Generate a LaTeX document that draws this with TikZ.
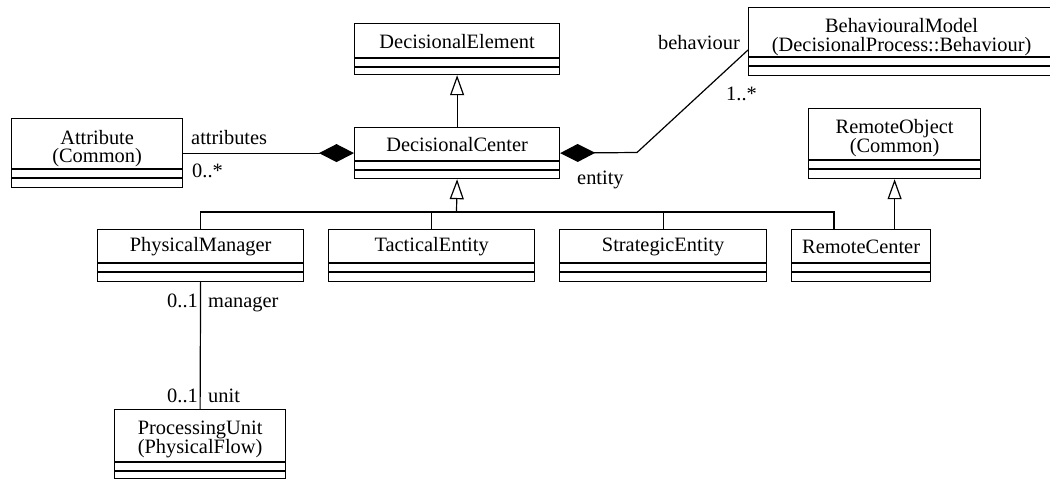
\documentclass[tikz,border=0pt]{standalone}
\usepackage{fontspec}
\setmainfont{Liberation Serif}
\usetikzlibrary{arrows.meta,calc}
\newcommand{\umlclass}[8]{%
  \node[cls, minimum width=#4pt, minimum height=#5pt, anchor=north west] (#1) at (#2,#3) {};
  \node[lbl, align=center] at ($(#1.north)+(0,#6/2+#8)$) {#7};
  \draw[ln] ($(#1.north west)+(0,#6)$) -- ($(#1.north east)+(0,#6)$);
  \draw[ln] ($(#1.north west)+(0,#6+9)$) -- ($(#1.north east)+(0,#6+9)$);
}
\begin{document}
\begin{tikzpicture}[x=1pt,y=-1pt,
  ln/.style={line width=1.2pt},
  cls/.style={draw, line width=1.2pt, inner sep=0pt, rectangle},
  lbl/.style={inner sep=0pt, font=\fontsize{20.4pt}{18.5pt}\selectfont},
  gen/.style={ln, -{Triangle[open,length=20pt,width=14pt]}},
  comp/.style={ln, {Diamond[length=35pt,width=18pt]}-}]
\useasboundingbox (0,0) rectangle (1050,479);
\clip (0,0) rectangle (1050,479);

\umlclass{de}{354}{23}{205}{51}{35}{DecisionalElement}{1}
\umlclass{dc}{354}{127}{205}{51}{34}{DecisionalCenter}{1}
\umlclass{at}{11}{118}{171}{69}{51}{Attribute\\(Common)}{5}
\umlclass{bm}{748}{7}{306}{68}{50}{BehaviouralModel\\(DecisionalProcess::Behaviour)}{5}
\umlclass{ro}{808}{108}{172}{70}{52}{RemoteObject\\(Common)}{4}
\umlclass{pm}{97}{229}{206}{52}{34}{PhysicalManager}{1}
\umlclass{te}{328}{229}{206}{52}{34}{TacticalEntity}{1}
\umlclass{se}{559}{229}{207}{52}{34}{StrategicEntity}{1}
\umlclass{rc}{791}{229}{139}{52}{34}{RemoteCenter}{1}
\umlclass{pu}{114}{409}{171}{69}{53}{ProcessingUnit\\(PhysicalFlow)}{4}

% generalizations
\draw[gen] (de.south |- dc.north) -- (de.south);
\coordinate (hub) at (456.5,212);
\coordinate (rcj) at (834,212);
\draw[gen] (hub) -- (dc.south);
\draw[ln] (pm.north) |- (rcj) -- (rcj |- rc.north);
\draw[ln] (te.north) -- (te.north |- hub);
\draw[ln] (se.north) -- (se.north |- hub);
\draw[gen] (ro.south |- rc.north) -- (ro.south);

% compositions
\draw[comp] (dc.west) -- (at.east);
\coordinate (bend) at (637,152.5);
\coordinate (bmA) at ($(bm.north west)+(0,43)$);
\draw[comp] (dc.east) -- (bend) -- (bmA);

% association
\draw[ln] (pm.south) -- (pu.north);

% labels
\node[lbl, anchor=base west] (l1) at (191,144) {attributes};
\node[lbl, anchor=base west] (l2) at (192,177) {0..*};
\node[lbl, anchor=base east] (l3) at (740,49) {behaviour};
\node[lbl, anchor=base west] (l4) at (726,100) {1..*};
\node[lbl, anchor=base west] (l5) at (577,184) {entity};
\node[lbl, anchor=base east] (l6) at (198,307) {0..1};
\node[lbl, anchor=base west] (l7) at (208,307) {manager};
\node[lbl, anchor=base east] (l8) at (198,402) {0..1};
\node[lbl, anchor=base west] (l9) at (208,402) {unit};
\end{tikzpicture}
\end{document}
